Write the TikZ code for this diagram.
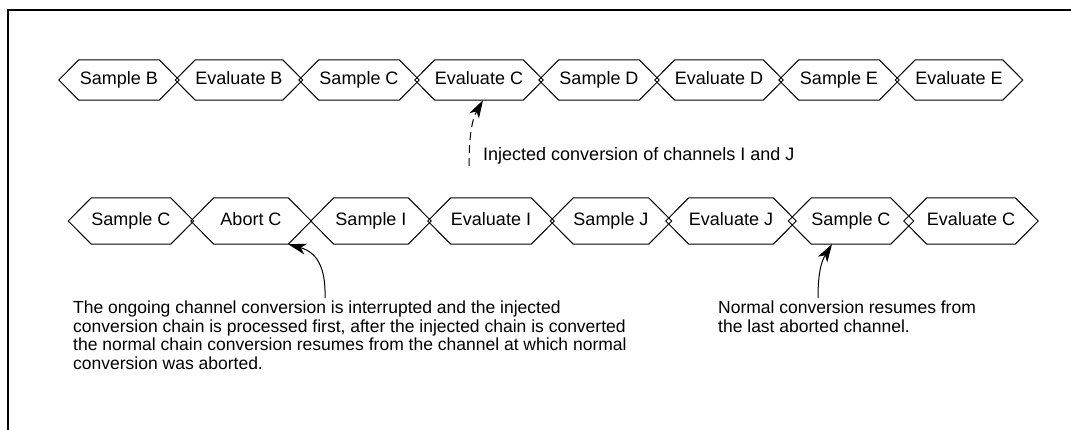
\documentclass[tikz,border=0pt]{standalone}
\usepackage{fontspec}
\setmainfont{Liberation Sans}
\usetikzlibrary{arrows.meta}

\begin{document}
\begin{tikzpicture}[x=1pt,y=-1pt,
    phase/.style={inner sep=0pt, text height=13pt, text depth=4pt, font=\fontsize{18}{20}\selectfont},
    outline/.style={line width=1pt, line join=miter},
    note/.style={align=left, inner sep=0pt, font=\fontsize{17.5}{18.5}\selectfont},
    pointer/.style={line width=1pt, -{Stealth[length=18pt,width=11pt,inset=5pt]}}]
    \useasboundingbox (0,0) rectangle (1071,430);
    \draw[line width=2pt] (8,430) -- (8,10) -- (1071,10);

    \foreach \lbl [count=\i from 0] in {Sample B,Evaluate B,Sample C,Evaluate C,Sample D,Evaluate D,Sample E,Evaluate E}{
        \node[phase, minimum width=80pt, minimum height=40pt] (top\i) at ({119+120*\i}, 80) {\lbl};
        \draw[outline] ([xshift=-20pt]top\i.west) -- (top\i.north west) -- (top\i.north east) -- ([xshift=20pt]top\i.east)
            -- (top\i.south east) -- (top\i.south west) -- cycle;
    }
    \foreach \lbl [count=\i from 0] in {Sample C,Abort C,Sample I,Evaluate I,Sample J,Evaluate J,Sample C,Evaluate C}{
        \node[phase, minimum width=74pt, minimum height=46pt] (bot\i) at ({131+120*\i}, 221) {\lbl};
        \draw[outline] ([xshift=-23pt]bot\i.west) -- (bot\i.north west) -- (bot\i.north east) -- ([xshift=23pt]bot\i.east)
            -- (bot\i.south east) -- (bot\i.south west) -- cycle;
    }

    \node[note, anchor=west, font=\fontsize{18}{20}\selectfont] (inj) at (483,156) {Injected conversion of channels I and J};
    \node[note, anchor=north west] (why) at (73,301) {The ongoing channel conversion is interrupted and the injected\\conversion chain is processed first, after the injected chain is converted\\the normal chain conversion resumes from the channel at which normal\\conversion was aborted.};
    \node[note, anchor=north west] (resume) at (718,301) {Normal conversion resumes from\\the last aborted channel.};

    \coordinate (injfrom) at (469,166);
    \coordinate (abortfrom) at (325,298);
    \coordinate (resumefrom) at (818,298);

    \draw[pointer, dash pattern=on 8pt off 5pt] (injfrom) .. controls (469,128) and (474,116) .. ([xshift=4pt]top3.south);
    \draw[pointer] (abortfrom) .. controls (326,266) and (316,252) .. (bot1.south east);
    \draw[pointer] (resumefrom) .. controls (818,274) and (821,262) .. ([xshift=-19pt]bot6.south);
\end{tikzpicture}
\end{document}
